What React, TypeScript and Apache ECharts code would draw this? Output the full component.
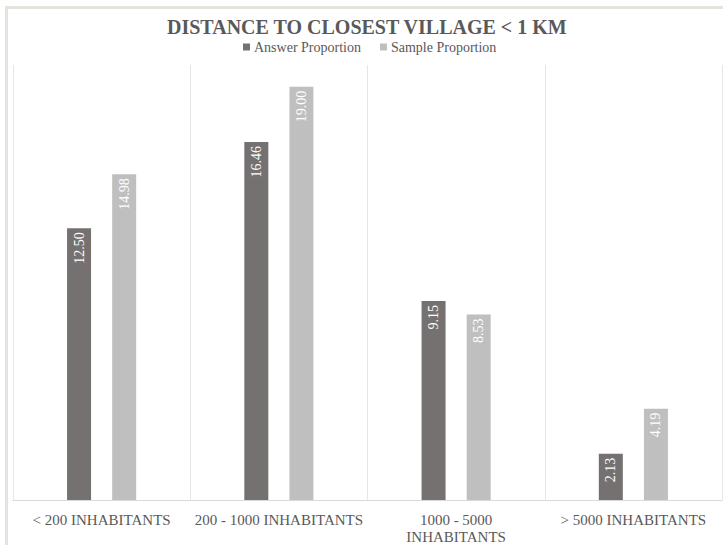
import React, { useEffect, useRef } from "react";
import * as echarts from "echarts";

const categories = ["< 200 INHABITANTS", "200 - 1000 INHABITANTS", "1000 - 5000\nINHABITANTS", "> 5000 INHABITANTS"];
const answerProportion = [12.5, 16.46, 9.15, 2.13];
const sampleProportion = [14.98, 19.0, 8.53, 4.19];

const FONT = "'Liberation Serif', 'Times New Roman', serif";

export default function App() {
  const ref = useRef<HTMLDivElement>(null);
  useEffect(() => {
    const chart = echarts.init(ref.current!, null, { renderer: "svg" });
    const label = {
      show: true,
      position: "insideTop",
      rotate: 90,
      align: "right",
      verticalAlign: "middle",
      distance: 4,
      color: "#ffffff",
      fontFamily: FONT,
      fontSize: 14,
      formatter: (p: any) => Number(p.value).toFixed(2),
    };
    chart.setOption({
      animation: false,
      backgroundColor: "#ffffff",
      title: {
        text: "DISTANCE TO CLOSEST VILLAGE < 1 KM",
        left: 162,
        top: 12,
        textStyle: { fontFamily: FONT, fontSize: 20, fontWeight: "bold", color: "#595959" },
      },
      legend: {
        top: 35,
        left: 238,
        itemWidth: 7,
        itemHeight: 7,
        itemGap: 19,
        icon: "rect",
        textStyle: { fontFamily: FONT, fontSize: 14, color: "#595959", padding: [0, 0, 0, -1] },
        data: ["Answer Proportion", "Sample Proportion"],
      },
      graphic: [
        {
          type: "rect",
          shape: { x: 6.5, y: 7.5, width: 740, height: 540 },
          style: { fill: "none", stroke: "#E4E4DF", lineWidth: 3 },
          silent: true,
          z: -1,
        },
      ],
      grid: { left: 13, right: 1, top: 65, bottom: 42, containLabel: false },
      xAxis: {
        type: "category",
        data: categories,
        axisLine: { show: true, lineStyle: { color: "#D9D9D9", width: 1 } },
        axisTick: { show: false },
        splitLine: { show: true, lineStyle: { color: "#E6E6E6", width: 1 } },
        axisLabel: { fontFamily: FONT, fontSize: 15, color: "#595959", margin: 11, interval: 0, lineHeight: 17 },
      },
      yAxis: {
        type: "value",
        min: 0,
        max: 20,
        show: false,
        splitLine: { show: false },
      },
      series: [
        {
          name: "Answer Proportion",
          type: "bar",
          data: answerProportion,
          barWidth: 24,
          barGap: "88%",
          itemStyle: { color: "#767171" },
          label,
        },
        {
          name: "Sample Proportion",
          type: "bar",
          data: sampleProportion,
          barWidth: 24,
          itemStyle: { color: "#BFBFBF" },
          label,
        },
      ],
    });
    return () => chart.dispose();
  }, []);
  return <div ref={ref} style={{ width: 723, height: 545, position: "absolute", left: 0, top: 0 }} />;
}
